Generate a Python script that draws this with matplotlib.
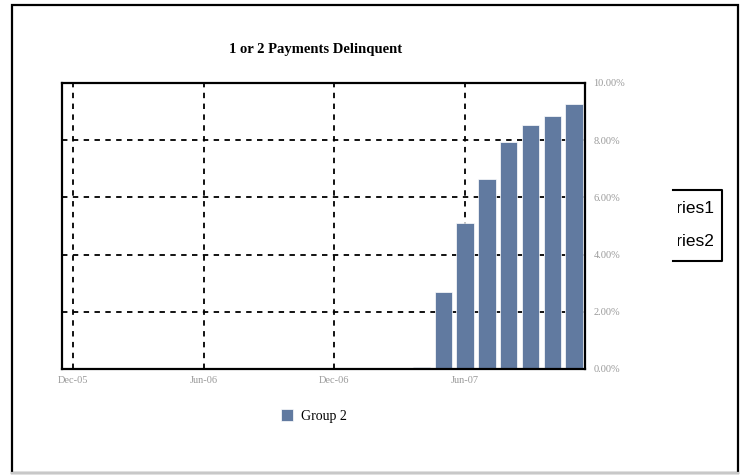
import matplotlib
matplotlib.use("Agg")
import matplotlib.pyplot as plt
from matplotlib.patches import Rectangle
from matplotlib.lines import Line2D
from matplotlib.transforms import Bbox, TransformedBbox
from matplotlib.ticker import FixedLocator, FuncFormatter

W, H = 744, 475

# monthly series, Dec-05 .. Nov-07 (percent)
months = ["Dec-05", "Jan-06", "Feb-06", "Mar-06", "Apr-06", "May-06",
          "Jun-06", "Jul-06", "Aug-06", "Sep-06", "Oct-06", "Nov-06",
          "Dec-06", "Jan-07", "Feb-07", "Mar-07", "Apr-07", "May-07",
          "Jun-07", "Jul-07", "Aug-07", "Sep-07", "Oct-07", "Nov-07"]
group2 = [0, 0, 0, 0, 0, 0, 0, 0, 0, 0, 0, 0,
          0, 0, 0, 0, 0.08, 2.68, 5.11, 6.63, 7.94, 8.52, 8.84, 9.25]
yticks = [0, 2, 4, 6, 8, 10]
xtick_idx = [0, 6, 12, 18]
other_series = ["Series1", "Series2"]

plt.rcParams["font.family"] = ["Liberation Serif", "DejaVu Serif"]

fig = plt.figure(figsize=(W / 100, H / 100), dpi=100)

def px(x0, y0, x1, y1):
    return [x0 / W, 1 - y1 / H, (x1 - x0) / W, (y1 - y0) / H]

ax = fig.add_axes(px(62, 83, 585, 369))
x = list(range(len(months)))
bars = ax.bar(x, group2, width=0.8, color="#617aa0", edgecolor="white",
              linewidth=0.5, label="Group 2", zorder=3)
ax.set_xlim(-0.5, len(months) - 0.5)
ax.set_ylim(0, 10)

ax.xaxis.set_major_locator(FixedLocator(xtick_idx))
ax.set_xticklabels([months[i] for i in xtick_idx])
ax.yaxis.set_major_locator(FixedLocator(yticks))
ax.yaxis.set_major_formatter(FuncFormatter(lambda v, p: f"{v:.2f}%"))
ax.yaxis.tick_right()
ax.tick_params(axis="both", colors="#9a9a9a", labelsize=7.5, length=0, pad=5)
ax.tick_params(axis="y", pad=6)
ax.grid(True, color="black", linestyle=(0, (3, 3)), linewidth=1.3, zorder=1)
ax.set_axisbelow(True)
for s in ax.spines.values():
    s.set_linewidth(1.6)
    s.set_color("black")
    s.set_zorder(4)

fig.text(316 / W, 1 - 50 / H, "1 or 2 Payments Delinquent", ha="center",
         va="center", fontsize=10.5, fontweight="bold")

fig.legend(handles=[bars], labels=["Group 2"], loc="center",
           bbox_to_anchor=(314 / W, 1 - 416 / H), frameon=False,
           fontsize=10, handlelength=0.9, handleheight=0.9, handletextpad=0.6)

# leftover legend box from a neighbouring chart, cut off on its left side
clip_box = TransformedBbox(Bbox([[678 / W, 0], [1, 1]]), fig.transFigure)
for i, name in enumerate(other_series):
    t = fig.text(714 / W, 1 - (208 + 34 * i) / H, name, ha="right",
                 va="center", fontsize=12.5, family="Liberation Sans")
    t.set_clip_box(clip_box)
    t.set_clip_on(True)
fig.lines.append(Line2D([673 / W, 722 / W, 722 / W, 673 / W],
                        [1 - 190 / H, 1 - 190 / H, 1 - 261 / H, 1 - 261 / H],
                        transform=fig.transFigure, color="black", lw=1.5))

# outer frame
fig.patches.append(Rectangle((11.5 / W, 1 - 473 / H), (738 - 11.5) / W,
                             (473 - 5) / H, transform=fig.transFigure,
                             fill=False, edgecolor="black", lw=1.6))
fig.lines.append(Line2D([11.5 / W, 738 / W], [1 - 473 / H, 1 - 473 / H],
                        transform=fig.transFigure, color="#c8c8c8", lw=1.6))

fig.savefig("out.png", dpi=100)
